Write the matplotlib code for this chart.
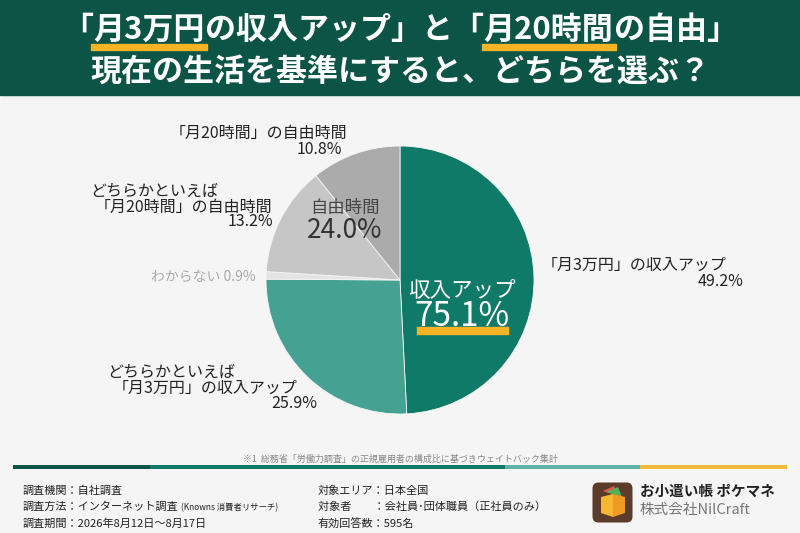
import matplotlib
matplotlib.use('Agg')
import matplotlib.pyplot as plt
from matplotlib.patches import Rectangle, FancyBboxPatch, Polygon

plt.rcParams['font.family'] = ['Noto Sans CJK JP', 'DejaVu Sans']

# データ（時計回り、上から）
labels = ['「月3万円」の収入アップ', 'どちらかといえば\n「月3万円」の収入アップ', 'わからない',
          'どちらかといえば\n「月20時間」の自由時間', '「月20時間」の自由時間']
values = [49.2, 25.9, 0.9, 13.2, 10.8]
colors = ['#107a69', '#45a293', '#e4e4e4', '#c6c6c6', '#ababab']
group_income = 75.1
group_free = 24.0

fig = plt.figure(figsize=(8, 5.33), dpi=100, facecolor='#f5f5f5')

# 背景用（ピクセル座標）
bg = fig.add_axes([0, 0, 1, 1])
bg.set_xlim(0, 800)
bg.set_ylim(533, 0)
bg.axis('off')
bg.add_patch(Rectangle((0, 0), 800, 95, color='#0b5446', zorder=0))

# 円グラフ
pie_ax = fig.add_axes([266 / 800, (533 - 414) / 533, 268 / 800, 268 / 533])
pie_ax.pie(values, colors=colors, startangle=90, counterclock=False,
           wedgeprops=dict(edgecolor='#f5f5f5', linewidth=0.6))
pie_ax.set_xlim(-1, 1)
pie_ax.set_ylim(-1, 1)
pie_ax.set_aspect('equal')

# 文字用
ov = fig.add_axes([0, 0, 1, 1], facecolor='none')
ov.set_xlim(0, 800)
ov.set_ylim(533, 0)
ov.axis('off')

renderer = fig.canvas.get_renderer()


def text_width(s, **kw):
    t = ov.text(0, 0, s, **kw)
    w = t.get_window_extent(renderer).width
    t.remove()
    return w


# タイトル（下線つき）
title_kw = dict(fontsize=22.3, fontweight='bold', color='white', va='center', ha='left')
parts = [('「', False), ('月3万円', True), ('の収入アップ」と「', False),
         ('月20時間', True), ('の自由」', False)]
widths = [text_width(p, **title_kw) for p, _ in parts]
x = 400 - sum(widths) / 2
for (p, ul), w in zip(parts, widths):
    if ul:
        ov.add_patch(Rectangle((x - 2, 44), w + 4, 6, color='#f5b325', zorder=1))
    ov.text(x, 30, p, zorder=2, **title_kw)
    x += w
ov.text(400, 72, '現在の生活を基準にすると、どちらを選ぶ？', fontsize=22.3, fontweight='bold',
        color='white', ha='center', va='center')

# 円の中のラベル
ov.text(462, 291, '収入アップ', fontsize=15.5, color='white', ha='center', va='center')
ov.add_patch(Rectangle((417, 327), 91, 7, color='#f5b325', zorder=1))
ov.text(462, 317, f'{group_income:.1f}%', fontsize=24, color='white', ha='center',
        va='center', zorder=2)
ov.text(345, 208, '自由時間', fontsize=12.5, color='#444444', ha='center', va='center')
ov.text(345, 231, f'{group_free:.1f}%', fontsize=19, color='#333333', ha='center', va='center')

# 外側のラベル
lab_kw = dict(fontsize=11.5, color='#222222', va='center')
ov.text(542, 265, labels[0], ha='left', **lab_kw)
ov.text(743, 282, f'{values[0]}%', ha='right', **lab_kw)

l1, l2 = labels[1].split('\n')
ov.text(107, 372, l1, ha='left', **lab_kw)
ov.text(113, 388, l2, ha='left', **lab_kw)
ov.text(317, 404, f'{values[1]}%', ha='right', **lab_kw)

ov.text(256, 277, f'{labels[2]} {values[2]}%', ha='right', fontsize=10,
        color='#aaaaaa', va='center')

l1, l2 = labels[3].split('\n')
ov.text(90, 191, l1, ha='left', **lab_kw)
ov.text(95, 207, l2, ha='left', **lab_kw)
ov.text(273, 222, f'{values[3]}%', ha='right', **lab_kw)

ov.text(170, 133, labels[4], ha='left', **lab_kw)
ov.text(342, 150, f'{values[4]}%', ha='right', **lab_kw)

# 注釈
ov.text(400, 459, '※1  総務省「労働力調査」の正規雇用者の構成比に基づきウェイトバック集計',
        fontsize=6.5, color='#888888', ha='center', va='center')

# 区切り線
for x0, x1, c in [(13, 150, '#0b5446'), (150, 505, '#107a69'),
                  (505, 640, '#5fb3a5'), (640, 787, '#f3b93b')]:
    ov.add_patch(Rectangle((x0, 465), x1 - x0, 4, color=c, lw=0))

# 調査概要
foot_kw = dict(fontsize=8, color='#222222', va='center', ha='left')
ov.text(23, 491, '調査機関：自社調査', **foot_kw)
ov.text(23, 507, '調査方法：インターネット調査', **foot_kw)
w = text_width('調査方法：インターネット調査 ', **foot_kw)
ov.text(23 + w, 508, '(Knowns 消費者リサーチ)', fontsize=6, color='#222222',
        va='center', ha='left')
ov.text(23, 524, '調査期間：2026年8月12日～8月17日', **foot_kw)
ov.text(318, 491, '対象エリア：日本全国', **foot_kw)
ov.text(318, 507, '対象者　　：会社員･団体職員（正社員のみ）', **foot_kw)
ov.text(318, 524, '有効回答数：595名', **foot_kw)

# ロゴ
ov.add_patch(FancyBboxPatch((594, 484), 37, 37, boxstyle='round,pad=1.5,rounding_size=6',
                            color='#5b3b29', lw=0))
ov.add_patch(Polygon([(603, 491), (614, 486), (618, 496)], color='#e8574a', lw=0))
ov.add_patch(Polygon([(606, 492), (618, 487), (622, 497)], color='#53b05b', lw=0))
ov.add_patch(Polygon([(601, 497), (613, 494), (613, 517), (601, 513)], color='#f7b733', lw=0))
ov.add_patch(Polygon([(613, 494), (625, 497), (625, 513), (613, 517)], color='#ef9a21', lw=0))
ov.text(640, 491, 'お小遣い帳 ポケマネ', fontsize=10.5, fontweight='bold', color='#222222',
        va='center', ha='left')
ov.text(640, 510, '株式会社NilCraft', fontsize=10.5, color='#777777', va='center', ha='left')

fig.savefig('out.png', dpi=100, facecolor=fig.get_facecolor())
